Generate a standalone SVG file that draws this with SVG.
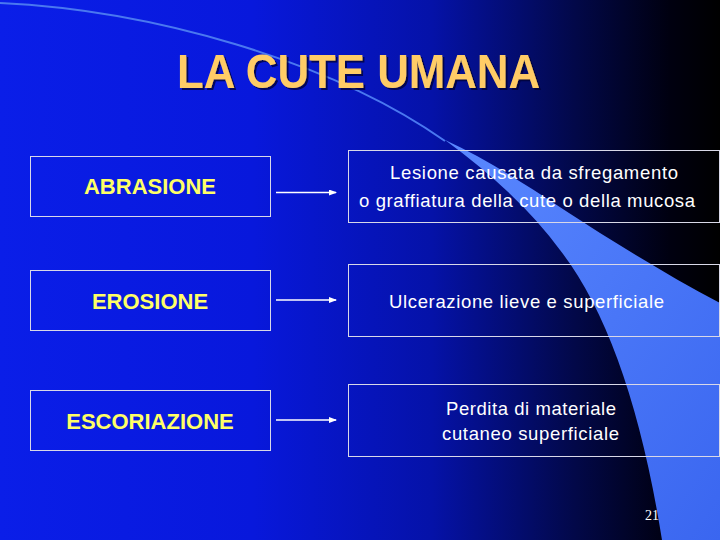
<svg xmlns="http://www.w3.org/2000/svg" width="720" height="540" viewBox="0 0 720 540">
  <defs>
    <linearGradient id="bg" x1="0" y1="0" x2="1" y2="0">
      <stop offset="0" stop-color="#0a1ee8"/>
      <stop offset="0.35" stop-color="#0818dc"/>
      <stop offset="0.6" stop-color="#0512a8"/>
      <stop offset="0.8" stop-color="#020848"/>
      <stop offset="0.93" stop-color="#000010"/>
      <stop offset="1" stop-color="#000000"/>
    </linearGradient>
    <linearGradient id="band" x1="0" y1="0" x2="1" y2="1">
      <stop offset="0" stop-color="#5a88ff"/>
      <stop offset="1" stop-color="#3a66f0"/>
    </linearGradient>
    <filter id="shadow" x="-5%" y="-20%" width="110%" height="140%">
      <feDropShadow dx="2" dy="2" stdDeviation="0.6" flood-color="#000033" flood-opacity="0.75"/>
    </filter>
    <marker id="arr" markerWidth="8" markerHeight="6" refX="7" refY="3" orient="auto" markerUnits="userSpaceOnUse">
      <path d="M0,0 L8,3 L0,6 Z" fill="#ffffff"/>
    </marker>
    <style>
      .box { fill: none; stroke: #d8d8e8; stroke-width: 1; }
      .term { font-family: "Liberation Sans", Arial, sans-serif; font-size: 22px; font-weight: bold; fill: #ffff66; text-anchor: middle; }
      .def { font-family: "Liberation Sans", Arial, sans-serif; font-size: 18.5px; fill: #ffffff; text-anchor: middle; }
      .conn { stroke: #ffffff; stroke-width: 1.5; fill: none; marker-end: url(#arr); }
    </style>
  </defs>

  <rect x="0" y="0" width="720" height="540" fill="url(#bg)"/>
  <path d="M0,3 C150,10 330,60 445,141" fill="none" stroke="#4a78f0" stroke-width="2"/>
  <path d="M445,140 Q520,195 560,250 Q630,340 662,540 L720,540 L720,303 C680,282 640,258 600,233 C560,208 500,165 445,140 Z" fill="url(#band)"/>

  <g id="title">
    <text x="358.5" y="88" font-family="Liberation Sans, Arial, sans-serif" font-size="48" font-weight="bold" fill="#ffcc66" text-anchor="middle" textLength="363" lengthAdjust="spacingAndGlyphs" filter="url(#shadow)">LA CUTE UMANA</text>
  </g>

  <g id="abrasione">
    <rect class="box" x="30.5" y="156.5" width="240" height="60"/>
    <text class="term" x="150" y="193.5">ABRASIONE</text>
  </g>
  <g id="erosione">
    <rect class="box" x="30.5" y="270.5" width="240" height="60"/>
    <text class="term" x="150" y="308.5">EROSIONE</text>
  </g>
  <g id="escoriazione">
    <rect class="box" x="30.5" y="390.5" width="240" height="60"/>
    <text class="term" x="150" y="428.5">ESCORIAZIONE</text>
  </g>

  <g id="def-abrasione">
    <rect class="box" x="348.5" y="150.5" width="371" height="72"/>
    <text class="def" x="534" y="178.5" textLength="288" lengthAdjust="spacing">Lesione causata da sfregamento</text>
    <text class="def" x="527" y="206.5" textLength="336" lengthAdjust="spacing">o graffiatura della cute o della mucosa</text>
  </g>
  <g id="def-erosione">
    <rect class="box" x="348.5" y="264.5" width="371" height="72"/>
    <text class="def" x="526.5" y="308" textLength="275" lengthAdjust="spacing">Ulcerazione lieve e superficiale</text>
  </g>
  <g id="def-escoriazione">
    <rect class="box" x="348.5" y="384.5" width="371" height="72"/>
    <text class="def" x="531" y="415" textLength="170" lengthAdjust="spacing">Perdita di materiale</text>
    <text class="def" x="530.5" y="439.5" textLength="177" lengthAdjust="spacing">cutaneo superficiale</text>
  </g>

  <g id="connectors">
    <line class="conn" x1="276" y1="192.5" x2="336" y2="192.5"/>
    <line class="conn" x1="276" y1="300" x2="336" y2="300"/>
    <line class="conn" x1="276" y1="420" x2="336" y2="420"/>
  </g>

  <text x="652" y="520" font-family="Liberation Serif, Times New Roman, serif" font-size="14" fill="#ffffff" text-anchor="middle">21</text>
</svg>
